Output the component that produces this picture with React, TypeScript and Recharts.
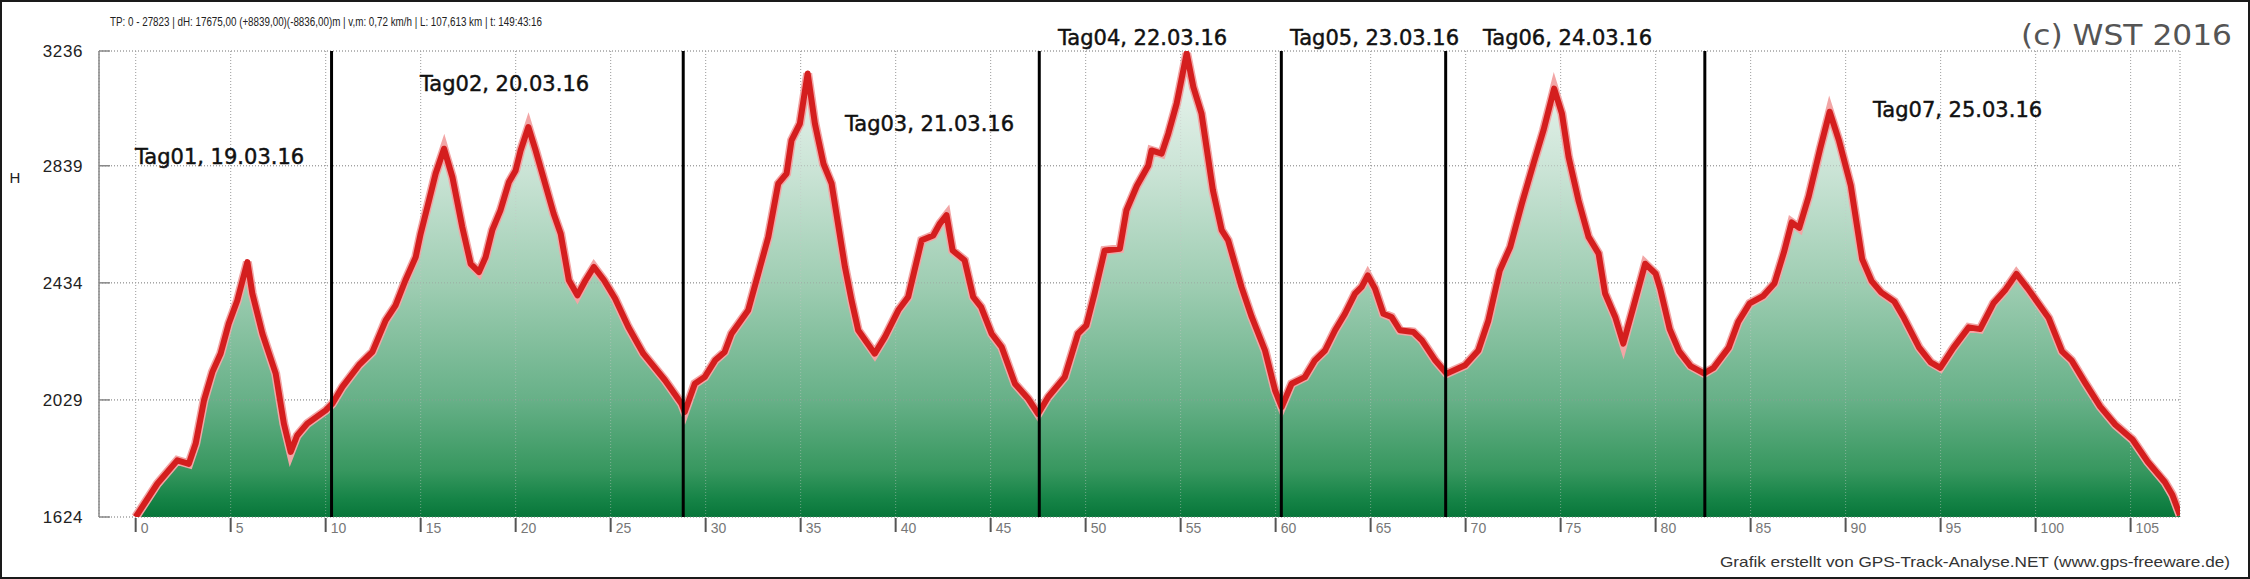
import React from 'react';
import {
  ComposedChart,
  Area,
  Line,
  XAxis,
  YAxis,
  CartesianGrid,
  ReferenceLine,
  ReferenceDot,
} from 'recharts';

// distance along the track (km) and elevation (m)
const distanceKm = [
  0, 1.14, 2.19, 2.8, 3.16, 3.6, 4.04, 4.47, 4.9, 5.35, 5.88, 6.14, 6.67, 7.37, 7.8, 8.16, 8.5, 9.03,
  10.0, 10.35, 10.88, 11.75, 12.46, 13.16, 13.68, 14.2, 14.74, 15.0, 15.44, 15.79, 16.23, 16.67, 17.19,
  17.63, 18.07, 18.42, 18.77, 19.2, 19.65, 20.0, 20.26, 20.67, 21.05, 21.4, 22.0, 22.37, 22.8, 23.25,
  23.68, 24.12, 24.65, 25.23, 25.93, 26.72, 27.86, 28.73, 28.9, 29.43, 29.95, 30.5, 31.0, 31.36, 32.24,
  32.77, 33.3, 33.82, 34.26, 34.52, 34.96, 35.37, 35.75, 36.2, 36.63, 37.33, 37.68, 38.03, 38.9, 39.44,
  40.14, 40.66, 41.37, 41.98, 42.33, 42.68, 43.0, 43.63, 44.08, 44.5, 45.05, 45.58, 46.28, 46.98, 47.5,
  48.03, 48.9, 49.6, 50.04, 50.47, 51.0, 51.8, 52.15, 52.7, 53.3, 53.47, 54.0, 54.35, 54.79, 55.32,
  55.67, 56.1, 56.7, 57.16, 57.5, 58.2, 58.74, 59.44, 59.97, 60.32, 60.84, 61.54, 62.07, 62.6, 63.13,
  63.65, 64.18, 64.53, 64.85, 65.23, 65.67, 66.1, 66.54, 67.25, 67.7, 68.4, 69.0, 69.97, 70.67, 71.2,
  71.8, 72.35, 72.96, 73.57, 74.1, 74.66, 75.07, 75.42, 75.94, 76.47, 77.0, 77.34, 77.87, 78.3, 78.83,
  79.45, 80.0, 80.24, 80.74, 81.24, 81.84, 82.55, 83.05, 83.85, 84.35, 84.95, 85.65, 86.26, 86.76,
  87.16, 87.56, 88.06, 88.66, 89.16, 89.66, 90.27, 90.87, 91.37, 91.87, 92.57, 93.07, 93.87, 94.48,
  94.98, 95.68, 96.48, 97.08, 97.78, 98.39, 98.99, 99.59, 100.69, 101.39, 101.89, 102.6, 103.4, 104.2,
  105.1, 105.9, 106.8, 107.2, 107.6,
];

const elevationM = [
  1624, 1739, 1820, 1808, 1878, 2028, 2126, 2189, 2293, 2373, 2506, 2397, 2258, 2120, 1947, 1849, 1906, 1947,
  1993, 2016, 2074, 2149, 2195, 2304, 2356, 2443, 2523, 2604, 2719, 2812, 2898, 2800, 2627,
  2500, 2471, 2523, 2616, 2685, 2783, 2823, 2892, 2973, 2892, 2812, 2673, 2604, 2443, 2391,
  2443, 2489, 2443, 2380, 2281, 2189, 2097, 2016, 1987, 2085, 2108, 2166, 2195, 2258, 2339,
  2466, 2593, 2777, 2812, 2927, 2985, 3158, 2985, 2846, 2777, 2489, 2373, 2270, 2189, 2247,
  2339, 2385, 2581, 2598, 2639, 2668, 2546, 2512, 2385, 2350, 2258, 2212, 2085, 2033, 1981,
  2039, 2108, 2258, 2287, 2397, 2546, 2552, 2685, 2770, 2840, 2892, 2881, 2950, 3054, 3228,
  3111, 3019, 2754, 2616, 2581, 2420, 2316, 2200, 2062, 2004, 2085, 2108, 2166, 2200, 2270,
  2327, 2397, 2420, 2460, 2414, 2327, 2316, 2270, 2264, 2235, 2166, 2120, 2149, 2200, 2304,
  2477, 2558, 2708, 2846, 2962, 3106, 3019, 2869, 2719, 2593, 2535, 2397, 2316, 2224, 2350,
  2500, 2466, 2414, 2274, 2197, 2146, 2121, 2140, 2210, 2299, 2363, 2388, 2433, 2541,
  2643, 2624, 2733, 2898, 3026, 2924, 2771, 2516, 2440, 2401, 2369, 2312, 2210, 2159,
  2140, 2210, 2280, 2274, 2363, 2408, 2465, 2414, 2312, 2197, 2166, 2089, 2006, 1943,
  1892, 1815, 1745, 1700, 1630,
];

const xTicks = [0, 5, 10, 15, 20, 25, 30, 35, 40, 45, 50, 55, 60, 65, 70, 75, 80, 85, 90, 95, 100, 105];
const yTicks = [1624, 2029, 2434, 2839, 3236];

const dayBoundaryKm = [10.31, 28.82, 47.56, 60.3, 68.95, 82.59];
const dayLabels = [
  'Tag01, 19.03.16',
  'Tag02, 20.03.16',
  'Tag03, 21.03.16',
  'Tag04, 22.03.16',
  'Tag05, 23.03.16',
  'Tag06, 24.03.16',
  'Tag07, 25.03.16',
];
const dayLabelKm = [-0.035, 14.965, 37.33, 48.545, 60.75, 70.91, 91.44];
const dayLabelElev = [2845, 3099, 2960, 3257, 3257, 3257, 3008];

const headerText =
  'TP: 0 - 27823 | dH: 17675,00 (+8839,00)(-8836,00)m | v,m: 0,72 km/h | L: 107,613 km | t: 149:43:16';
const copyrightText = '(c) WST 2016';
const footerText = 'Grafik erstellt von GPS-Track-Analyse.NET (www.gps-freeware.de)';

const data = distanceKm.map((km, i) => ({ km, h: elevationM[i] }));

const SANS = "'Liberation Sans', Arial, sans-serif";
const DEJAVU = "'DejaVu Sans', Verdana, sans-serif";

const XTick = (props: any) => {
  const { x, y, payload } = props;
  return (
    <g>
      <line x1={x} x2={x} y1={y + 1} y2={y + 15} stroke="#555" strokeWidth={2} />
      <text x={x + 5} y={y + 16} fontSize={14} fill="#777" fontFamily={SANS}>
        {payload.value}
      </text>
    </g>
  );
};

const YTick = (props: any) => {
  const { x, y, payload } = props;
  return (
    <g>
      <line x1={x} x2={x + 11} y1={y} y2={y} stroke="#888" strokeWidth={1.5} />
      <text
        x={x - 16}
        y={y}
        dy="0.36em"
        textAnchor="end"
        fontSize={17}
        letterSpacing={0.6}
        fill="#222"
        fontFamily={SANS}
      >
        {payload.value}
      </text>
    </g>
  );
};

const DayLabel = (text: string) => (p: any) => (
  <text
    x={p.cx}
    y={p.cy}
    fontSize={21}
    fill="#111"
    stroke="#111"
    strokeWidth={0.45}
    fontFamily={DEJAVU}
  >
    {text}
  </text>
);

export default function App() {
  return (
    <div style={{ position: 'relative', width: 2250, height: 579, background: '#fff' }}>
      <style>{'body{margin:0;background:#fff}'}</style>
      <div style={{ position: 'absolute', left: 0, top: 0 }}>
        <ComposedChart
          width={2250}
          height={579}
          data={data}
          margin={{ top: 51, right: 70, bottom: 0, left: 0 }}
        >
          <defs>
            <linearGradient id="elevFill" x1="0" y1="0" x2="0" y2="1">
              <stop offset="0" stopColor="#edf6f1" />
              <stop offset="0.25" stopColor="#cbe4d6" />
              <stop offset="0.5" stopColor="#9ecdb2" />
              <stop offset="0.75" stopColor="#66b087" />
              <stop offset="0.9" stopColor="#37975f" />
              <stop offset="0.96" stopColor="#168447" />
              <stop offset="1" stopColor="#08763a" />
            </linearGradient>
          </defs>
          <CartesianGrid stroke="#8a8a8a" strokeDasharray="1 2" strokeWidth={1} />
          <XAxis
            dataKey="km"
            type="number"
            domain={[-1.93, 107.6]}
            ticks={xTicks}
            allowDataOverflow
            height={62}
            axisLine={false}
            tickLine={false}
            tickSize={0}
            tickMargin={0}
            interval={0}
            tick={(p: any) => <XTick {...p} />}
          />
          <YAxis
            type="number"
            domain={[1624, 3236]}
            ticks={yTicks}
            allowDataOverflow
            width={99}
            axisLine={{ stroke: '#888', strokeWidth: 1.5 }}
            tickLine={false}
            tickSize={0}
            tickMargin={0}
            interval={0}
            tick={(p: any) => <YTick {...p} />}
          />
          <Area
            type="linear"
            dataKey="h"
            fill="url(#elevFill)"
            fillOpacity={1}
            stroke="#f2a6a6"
            strokeWidth={9}
            isAnimationActive={false}
            dot={false}
            activeDot={false}
          />
          {xTicks.map((k) => (
            <ReferenceLine
              key={'gx' + k}
              x={k}
              stroke="#c8c8c8"
              strokeOpacity={0.5}
              strokeDasharray="1 2"
            />
          ))}
          {yTicks.map((v) => (
            <ReferenceLine
              key={'gy' + v}
              y={v}
              stroke="#9a9a9a"
              strokeOpacity={0.6}
              strokeDasharray="1 2"
            />
          ))}
          <Line
            type="linear"
            dataKey="h"
            stroke="#d41e1e"
            strokeWidth={6}
            strokeLinejoin="round"
            isAnimationActive={false}
            dot={false}
            activeDot={false}
          />
          {dayBoundaryKm.map((k) => (
            <ReferenceLine key={k} x={k} stroke="#000" strokeWidth={3} ifOverflow="visible" />
          ))}
          {dayLabels.map((t, i) => (
            <ReferenceDot
              key={t}
              x={dayLabelKm[i]}
              y={dayLabelElev[i]}
              r={0}
              ifOverflow="visible"
              shape={DayLabel(t)}
            />
          ))}
        </ComposedChart>
      </div>
      <svg
        width={2250}
        height={579}
        style={{ position: 'absolute', left: 0, top: 0, pointerEvents: 'none' }}
      >
        <text x={110} y={26} fontSize={12.5} fill="#222" fontFamily={SANS} textLength={432} lengthAdjust="spacingAndGlyphs">
          {headerText}
        </text>
        <text x={2021} y={45} fontSize={29} fill="#555" fontFamily={DEJAVU} textLength={211} lengthAdjust="spacingAndGlyphs">
          {copyrightText}
        </text>
        <text x={15} y={178} dy="0.35em" textAnchor="middle" fontSize={15} fill="#222" fontFamily={SANS}>
          H
        </text>
        <text x={1720} y={567} fontSize={14.5} fill="#333" fontFamily={SANS} textLength={510} lengthAdjust="spacingAndGlyphs">
          {footerText}
        </text>
      </svg>
      <div
        style={{
          position: 'absolute',
          left: 0,
          top: 0,
          width: 2250,
          height: 579,
          boxSizing: 'border-box',
          border: '2px solid #1a1a1a',
          pointerEvents: 'none',
        }}
      />
    </div>
  );
}
